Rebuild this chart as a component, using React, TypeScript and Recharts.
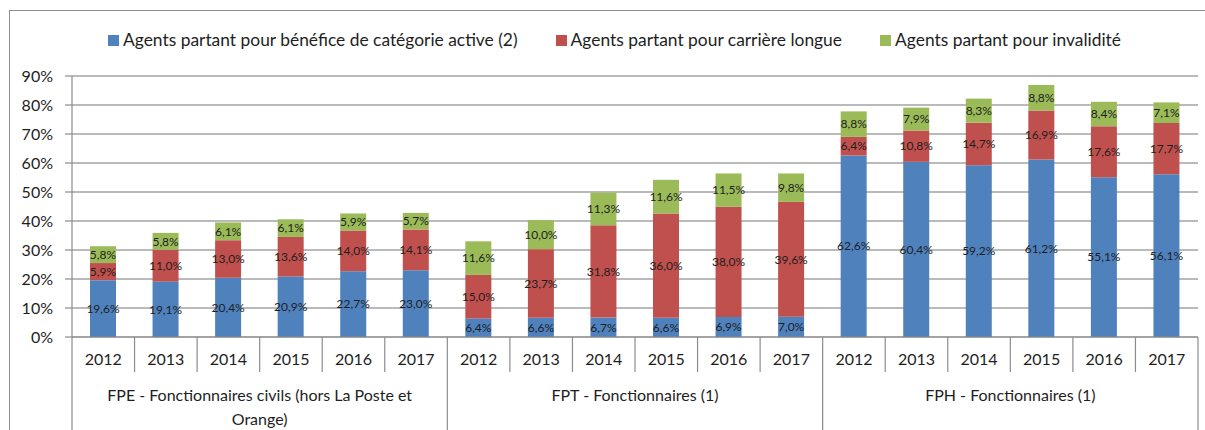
import { Bar, BarChart, CartesianGrid, LabelList, Legend, XAxis, YAxis } from "recharts";

const years = ["2012", "2013", "2014", "2015", "2016", "2017"];
const groupLabels = [
  "FPE - Fonctionnaires civils (hors La Poste et\nOrange)",
  "FPT - Fonctionnaires (1)",
  "FPH - Fonctionnaires (1)",
];

// valeurs en %, dans l'ordre FPE, FPT, FPH puis années
const activeValues = [
  19.6, 19.1, 20.4, 20.9, 22.7, 23.0,
  6.4, 6.6, 6.7, 6.6, 6.9, 7.0,
  62.6, 60.4, 59.2, 61.2, 55.1, 56.1,
];
const longueValues = [
  5.9, 11.0, 13.0, 13.6, 14.0, 14.1,
  15.0, 23.7, 31.8, 36.0, 38.0, 39.6,
  6.4, 10.8, 14.7, 16.9, 17.6, 17.7,
];
const invaliditeValues = [
  5.8, 5.8, 6.1, 6.1, 5.9, 5.7,
  11.6, 10.0, 11.3, 11.6, 11.5, 9.8,
  8.8, 7.9, 8.3, 8.8, 8.4, 7.1,
];
const yTicks = [0, 10, 20, 30, 40, 50, 60, 70, 80, 90];

const series = [
  { key: "active", name: "Agents partant pour bénéfice de catégorie active (2)", color: "#4F81BD" },
  { key: "longue", name: "Agents partant pour carrière longue", color: "#C0504D" },
  { key: "invalidite", name: "Agents partant pour invalidité", color: "#9BBB59" },
];

const data = groupLabels.flatMap((group, gi) =>
  years.map((year, yi) => {
    const i = gi * years.length + yi;
    return {
      key: `${gi}-${year}`,
      year,
      group,
      active: activeValues[i],
      longue: longueValues[i],
      invalidite: invaliditeValues[i],
    };
  })
);

const W = 1205;
const H = 430;
const PLOT_LEFT = 72;
const PLOT_RIGHT = 1198;
const AXIS_H = 93;
const band = (PLOT_RIGHT - PLOT_LEFT) / data.length;
const lineColor = "#8c8c8c";
const textColor = "#1e1e1e";

const pct = (v: number) => `${v.toFixed(1).replace(".", ",")}%`;

function YearTick(props: any) {
  const { x, y, index } = props;
  const row = data[index];
  if (!row) return null;
  const left = x - band / 2;
  const groupStart = index % years.length === 0;
  const lines = row.group.split("\n");
  return (
    <g>
      <line x1={left} x2={left} y1={y} y2={y + (groupStart ? AXIS_H : 35)} stroke={lineColor} strokeWidth={1.2} />
      {index === data.length - 1 && (
        <line x1={x + band / 2} x2={x + band / 2} y1={y} y2={y + AXIS_H} stroke={lineColor} strokeWidth={1.2} />
      )}
      <text x={x} y={y + 28} textAnchor="middle" fontSize={16} fill={textColor}>
        {row.year}
      </text>
      {groupStart &&
        lines.map((l: string, li: number) => (
          <text
            key={li}
            x={left + (band * years.length) / 2}
            y={y + 64 + li * 24}
            textAnchor="middle"
            fontSize={16}
            fill={textColor}
          >
            {l}
          </text>
        ))}
    </g>
  );
}

function LegendContent() {
  return (
    <div style={{ display: "flex", gap: 38, paddingLeft: 108, fontSize: 17.4, color: textColor, lineHeight: "20px" }}>
      {series.map((s) => (
        <div key={s.key} style={{ display: "flex", alignItems: "center", gap: 4 }}>
          <span style={{ width: 11, height: 11, background: s.color, display: "inline-block" }} />
          {s.name}
        </div>
      ))}
    </div>
  );
}

export default function App() {
  return (
    <div
      style={{
        position: "fixed",
        top: 0,
        left: 0,
        width: W,
        height: H,
        overflow: "hidden",
        background: "#fff",
        fontFamily: "Lato, sans-serif",
      }}
    >
      <div
        style={{
          position: "absolute",
          left: 9,
          top: 10,
          width: 1400,
          height: 600,
          border: "1.5px solid #8f8f8f",
        }}
      />
      <BarChart
        width={W}
        height={H}
        data={data}
        margin={{ top: 76, right: W - PLOT_RIGHT, left: 0, bottom: 0 }}
        barSize={26}
        style={{ position: "absolute", left: 0, top: 0 }}
      >
        <CartesianGrid vertical={false} stroke="#a3a3a3" strokeWidth={1.5} />
        <XAxis
          dataKey="key"
          height={AXIS_H}
          interval={0}
          tick={<YearTick />}
          tickLine={false}
          tickSize={0}
          tickMargin={0}
          axisLine={{ stroke: lineColor, strokeWidth: 1.2 }}
        />
        <YAxis
          width={PLOT_LEFT}
          domain={[0, 90]}
          ticks={yTicks}
          interval={0}
          tickFormatter={(v: number) => `${v}%`}
          tick={{ fontSize: 16, fill: textColor }}
          tickSize={7}
          tickMargin={12}
          tickLine={{ stroke: lineColor, strokeWidth: 1.2 }}
          axisLine={{ stroke: lineColor, strokeWidth: 1.2 }}
        />
        <Legend
          verticalAlign="middle"
          align="center"
          content={<LegendContent />}
          wrapperStyle={{ top: 30, left: 0, width: W }}
        />
        {series.map((s) => (
          <Bar key={s.key} dataKey={s.key} name={s.name} stackId="a" fill={s.color} isAnimationActive={false}>
            <LabelList dataKey={s.key} position="center" formatter={(v: any) => pct(Number(v))} fontSize={12} fill={textColor} />
          </Bar>
        ))}
      </BarChart>
    </div>
  );
}
